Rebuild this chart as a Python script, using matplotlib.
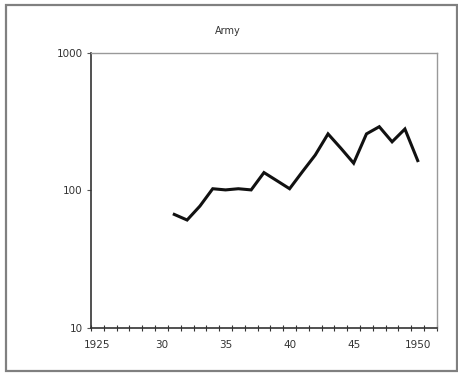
import numpy as np
import matplotlib.pyplot as plt
from matplotlib.patches import Rectangle

# army series, one value per year (log scale)
years = list(range(1925, 1952))
army_years = list(range(1931, 1951))
army = [67, 61, 77, 103, 101, 103, 101, 135, 118, 103,
        137, 181, 258, 203, 158, 258, 291, 226, 280, 165]
xlabels = ['1925', '30', '35', '40', '45', '1950']

fig = plt.figure(figsize=(4.58, 3.74), dpi=100)
fig.patches.append(Rectangle((0.013, 0.008), 0.984, 0.978, transform=fig.transFigure,
                             fill=False, edgecolor='#808080', linewidth=1.6))

ax = fig.add_axes([0.1987, 0.123, 0.7553, 0.7353])
xs = [years.index(y) for y in army_years]
ax.plot(xs, army, color='#111111', linewidth=2.2, solid_joinstyle='miter')

ax.set_yscale('log')
ax.set_ylim(10, 1000)
ax.set_yticks([10, 100, 1000])
ax.set_yticklabels(['10', '100', '1000'])
ax.yaxis.set_minor_locator(plt.NullLocator())

ax.set_xlim(-0.5, len(years) - 0.5)
ax.set_xticks([years.index(int('19' + l[-2:])) for l in xlabels])
ax.set_xticklabels(xlabels)
ax.set_xticks(np.arange(-0.5, len(years)), minor=True)
ax.tick_params(axis='x', which='major', length=0, pad=9, labelsize=7.5, labelcolor='#333333')
ax.tick_params(axis='x', which='minor', direction='inout', length=4, width=0.8, color='#333333')
ax.tick_params(axis='y', which='major', length=3, width=0.8, pad=3, labelsize=7.5,
               labelcolor='#333333', color='#555555')

for side in ['left', 'bottom']:
    ax.spines[side].set_color('#333333')
    ax.spines[side].set_linewidth(1.2)
for side in ['top', 'right']:
    ax.spines[side].set_color('#999999')
    ax.spines[side].set_linewidth(1.0)

fig.text(0.497, 0.917, 'Army', ha='center', va='center', fontsize=7, color='#333333')

fig.savefig('out.png', dpi=100)
